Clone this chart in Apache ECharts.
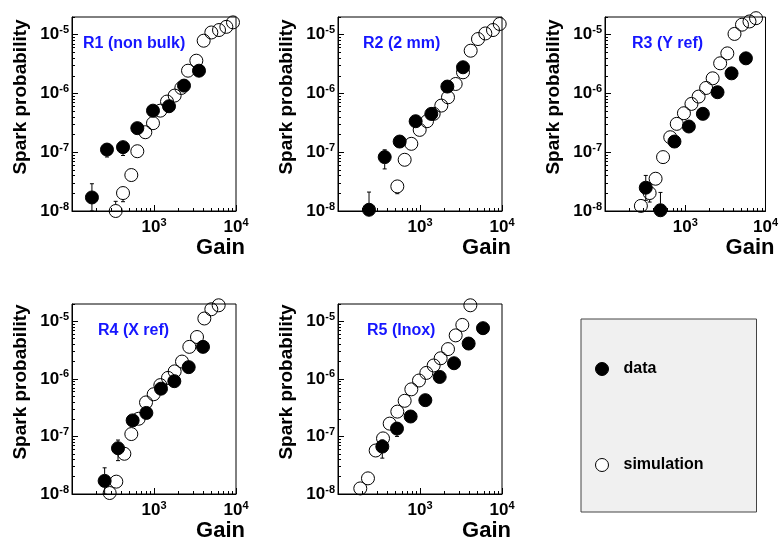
<!DOCTYPE html>
<html>
<head>
<meta charset="utf-8">
<script src="https://cdn.jsdelivr.net/npm/echarts@6/dist/echarts.min.js"></script>
<style>
  html, body { margin: 0; padding: 0; background: #fff; }
  #chart { width: 781px; height: 542px; }
</style>
</head>
<body>
<div id="chart"></div>
<script>
// gain / spark probability, [gain, probability]
const r1Data = [[175, 1.7e-8], [267, 1.11e-7], [419, 1.22e-7], [626, 2.57e-7], [972, 5.1e-7], [1524, 6.06e-7], [2322, 1.36e-6], [3538, 2.44e-6]]
const r1Sim = [[341, 1.0e-8], [419, 2.02e-8], [529, 4.09e-8], [626, 1.04e-7], [784, 2.19e-7], [972, 3.12e-7], [1195, 5.1e-7], [1441, 7.28e-7], [1786, 9.2e-7], [2155, 1.24e-6], [2600, 2.44e-6], [3283, 3.61e-6], [4034, 7.9e-6], [5002, 1.09e-5], [6208, 1.2e-5], [7624, 1.36e-5], [9190, 1.62e-5]]
const r2Data = [[239, 1.05e-8], [371, 8.26e-8], [565, 1.52e-7], [885, 3.37e-7], [1374, 4.49e-7], [2155, 1.31e-6], [3345, 2.79e-6]]
const r2Sim = [[529, 2.62e-8], [650, 7.44e-8], [784, 1.39e-7], [991, 2.4e-7], [1217, 3.37e-7], [1468, 4.5e-7], [1820, 6.22e-7], [2195, 8.6e-7], [2723, 1.45e-6], [3345, 2.29e-6], [4150, 5.34e-6], [5096, 8.43e-6], [6262, 1.05e-5], [7769, 1.2e-5], [9370, 1.52e-5]]
const r3Data = [[322, 2.49e-8], [491, 1.03e-8], [734, 1.52e-7], [1109, 2.74e-7], [1658, 4.5e-7], [2525, 1.05e-6], [3776, 2.2e-6], [5702, 3.96e-6]]
const r3Sim = [[280, 1.22e-8], [360, 2.02e-8], [427, 3.54e-8], [529, 8.26e-8], [650, 1.8e-7], [784, 3.04e-7], [963, 4.61e-7], [1195, 6.64e-7], [1468, 8.85e-7], [1820, 1.24e-6], [2195, 1.81e-6], [2723, 3.26e-6], [3345, 4.81e-6], [4111, 1.03e-5], [5096, 1.48e-5], [6318, 1.68e-5], [7624, 1.91e-5]]
const r4Data = [[250, 1.69e-8], [364, 6.24e-8], [549, 1.9e-7], [807, 2.56e-7], [1217, 6.76e-7], [1770, 9.12e-7], [2648, 1.6e-6], [3960, 3.6e-6]]
const r4Sim = [[288, 1.04e-8], [347, 1.64e-8], [435, 5.0e-8], [529, 1.1e-7], [650, 2.03e-7], [799, 3.9e-7], [991, 5.41e-7], [1195, 7.8e-7], [1482, 1.04e-6], [1786, 1.35e-6], [2195, 2.0e-6], [2697, 3.6e-6], [3345, 5.34e-6], [4111, 1.12e-5], [5002, 1.62e-5], [6146, 1.9e-5]]
const r5Data = [[347, 6.67e-8], [524, 1.37e-7], [769, 2.22e-7], [1162, 4.27e-7], [1738, 1.08e-6], [2600, 1.87e-6], [3920, 4.11e-6], [5865, 7.6e-6]]
const r5Sim = [[187, 1.25e-8], [232, 1.87e-8], [288, 5.7e-8], [354, 9.25e-8], [427, 1.67e-7], [529, 2.7e-7], [650, 4.16e-7], [784, 6.58e-7], [972, 9.37e-7], [1195, 1.27e-6], [1468, 1.71e-6], [1786, 2.28e-6], [2195, 3.29e-6], [2723, 5.7e-6], [3283, 8.66e-6], [4111, 1.9e-5]]

// error bars where they show outside the markers, [gain, probability, low, high]
const r1Err = [[175, 1.7e-8, 1.0e-8, 2.91e-8], [267, 1.11e-7, 8.3e-8, 1.35e-7], [419, 1.22e-7, 8.8e-8, 1.45e-7], [341, 1.0e-8, 1.0e-8, 1.46e-8], [419, 2.02e-8, 1.44e-8, 2.3e-8]]
const r2Err = [[239, 1.05e-8, 1.0e-8, 2.1e-8], [371, 8.26e-8, 5.2e-8, 1.1e-7], [529, 2.62e-8, 1.97e-8, 3.0e-8]]
const r3Err = [[322, 2.49e-8, 1.52e-8, 4.03e-8], [491, 1.03e-8, 1.0e-8, 2.07e-8], [360, 2.02e-8, 1.42e-8, 2.4e-8]]
const r4Err = [[250, 1.69e-8, 1.0e-8, 2.85e-8], [364, 6.24e-8, 3.8e-8, 8.66e-8], [347, 1.64e-8, 1.3e-8, 2.1e-8]]
const r5Err = [[347, 6.67e-8, 4.2e-8, 8.7e-8], [524, 1.37e-7, 1.0e-7, 1.7e-7], [187, 1.25e-8, 1.0e-8, 1.6e-8]]

const panelNames = ['R1 (non bulk)', 'R2 (2 mm)', 'R3 (Y ref)', 'R4 (X ref)', 'R5 (Inox)']
const panelData = [r1Data, r2Data, r3Data, r4Data, r5Data]
const panelSim = [r1Sim, r2Sim, r3Sim, r4Sim, r5Sim]
const panelErr = [r1Err, r2Err, r3Err, r4Err, r5Err]

const xMin = 100
const xMax = 10000
const yMin = 1e-8
const yMax = 2e-5
const xMajor = [100, 1000, 10000]
const xLabels = [1000, 10000]
const xMinor = [200, 300, 400, 500, 600, 700, 800, 900, 2000, 3000, 4000, 5000, 6000, 7000, 8000, 9000]
const yMajor = [1e-8, 1e-7, 1e-6, 1e-5]
const yMinor = [
  2e-8, 3e-8, 4e-8, 5e-8, 6e-8, 7e-8, 8e-8, 9e-8,
  2e-7, 3e-7, 4e-7, 5e-7, 6e-7, 7e-7, 8e-7, 9e-7,
  2e-6, 3e-6, 4e-6, 5e-6, 6e-6, 7e-6, 8e-6, 9e-6,
  2e-5,
]

const FONT = '"Liberation Sans", Arial, Helvetica, sans-serif'
const MARK = 13

// plot frames (left, top, width, height)
const frames = [
  [72, 17, 164, 194],
  [338, 17, 164, 194],
  [605, 17, 163, 194],
  [72, 304, 164, 194],
  [338, 304, 164, 194],
]
const titlePos = [[83, 36], [363, 36], [632, 36], [98, 323], [367, 323]]

const powLabel = (v) => `{b|10}{s|${Math.round(Math.log10(v))}}`
const powRich = {
  b: { fontSize: 17, fontWeight: 'bold', fontFamily: FONT, color: '#000', lineHeight: 20 },
  s: { fontSize: 11, fontWeight: 'bold', fontFamily: FONT, color: '#000', verticalAlign: 'top', lineHeight: 20 },
}

const renderErr = (params, api) => {
  const c = api.coord([api.value(0), api.value(1)])
  const lo = api.coord([api.value(0), api.value(2)])
  const hi = api.coord([api.value(0), api.value(3)])
  const r = MARK / 2
  const cap = 2
  const style = { stroke: '#000', lineWidth: 1 }
  const children = []
  if (hi[1] < c[1] - r) {
    children.push({ type: 'line', shape: { x1: c[0], y1: c[1] - r, x2: c[0], y2: hi[1] }, style })
    children.push({ type: 'line', shape: { x1: c[0] - cap, y1: hi[1], x2: c[0] + cap, y2: hi[1] }, style })
  }
  if (lo[1] > c[1] + r) {
    children.push({ type: 'line', shape: { x1: c[0], y1: c[1] + r, x2: c[0], y2: lo[1] }, style })
    children.push({ type: 'line', shape: { x1: c[0] - cap, y1: lo[1], x2: c[0] + cap, y2: lo[1] }, style })
  }
  return { type: 'group', children }
}

const grid = []
const xAxis = []
const yAxis = []
const series = []
const title = []

frames.forEach(([left, top, width, height], i) => {
  grid.push({ left, top, width, height, show: true, borderColor: '#000', borderWidth: 1, backgroundColor: 'transparent' })

  // main axes: frame, major ticks, labels, names
  xAxis.push({
    type: 'log', gridIndex: i, min: xMin, max: xMax, logBase: 10,
    axisLine: { lineStyle: { color: '#000', width: 1 } },
    axisTick: { inside: true, length: 6, customValues: xMajor, lineStyle: { color: '#000' } },
    axisLabel: { customValues: xLabels, formatter: powLabel, rich: powRich, margin: 6 },
    splitLine: { show: false },
    name: 'Gain', nameLocation: 'end', nameGap: 9,
    nameTextStyle: { fontSize: 22, fontWeight: 'bold', fontFamily: FONT, color: '#000', align: 'right', verticalAlign: 'top', padding: [26, 0, 0, 0] },
  })
  yAxis.push({
    type: 'log', gridIndex: i, min: yMin, max: yMax, logBase: 10,
    axisLine: { lineStyle: { color: '#000', width: 1 } },
    axisTick: { inside: true, length: 6, customValues: yMajor, lineStyle: { color: '#000' } },
    axisLabel: { customValues: yMajor, formatter: powLabel, rich: powRich, margin: 3 },
    splitLine: { show: false },
    name: 'Spark probability', nameLocation: 'middle', nameRotate: 90, nameGap: 42,
    nameTextStyle: { fontSize: 19, fontWeight: 'bold', fontFamily: FONT, color: '#000', padding: [0, 0, 0, 34] },
  })
  // minor tick axes on the same frame
  xAxis.push({
    type: 'log', gridIndex: i, min: xMin, max: xMax, logBase: 10, position: 'bottom',
    axisLine: { show: false },
    axisTick: { inside: true, length: 3, customValues: xMinor, lineStyle: { color: '#000' } },
    axisLabel: { show: false },
    splitLine: { show: false },
  })
  yAxis.push({
    type: 'log', gridIndex: i, min: yMin, max: yMax, logBase: 10, position: 'left',
    axisLine: { show: false },
    axisTick: { inside: true, length: 3, customValues: yMinor, lineStyle: { color: '#000' } },
    axisLabel: { show: false },
    splitLine: { show: false },
  })

  const xi = i * 2
  const yi = i * 2

  series.push({
    name: 'simulation', type: 'scatter', xAxisIndex: xi, yAxisIndex: yi,
    data: panelSim[i], symbol: 'circle', symbolSize: MARK, clip: false,
    itemStyle: { color: 'transparent', borderColor: '#000', borderWidth: 1, opacity: 1 },
    emphasis: { disabled: true }, z: 2,
  })
  series.push({
    name: 'data', type: 'scatter', xAxisIndex: xi, yAxisIndex: yi,
    data: panelData[i], symbol: 'circle', symbolSize: MARK, clip: false,
    itemStyle: { color: '#000', borderColor: '#000', borderWidth: 1, opacity: 1 },
    emphasis: { disabled: true }, z: 3,
  })
  series.push({
    type: 'custom', xAxisIndex: xi, yAxisIndex: yi, data: panelErr[i],
    renderItem: renderErr, encode: { x: 0, y: 1 }, clip: false, silent: true, z: 4,
  })

  title.push({
    text: panelNames[i], left: titlePos[i][0], top: titlePos[i][1], padding: 0,
    textStyle: { fontSize: 16, fontWeight: 'bold', fontFamily: FONT, color: '#1616ff' },
  })
})

const chart = echarts.init(document.getElementById('chart'), null, { renderer: 'canvas' })
chart.setOption({
  animation: false,
  backgroundColor: '#fff',
  title,
  grid,
  xAxis,
  yAxis,
  legend: {
    orient: 'vertical', left: 581, top: 319,
    padding: [42, 53, 39, 14],
    itemWidth: 13, itemHeight: 13, itemGap: 80,
    backgroundColor: '#f0f0f0', borderColor: '#444', borderWidth: 1,
    icon: 'circle',
    selectedMode: false,
    textStyle: { fontSize: 16, fontWeight: 'bold', fontFamily: FONT, color: '#000', padding: [0, 0, 0, 10] },
    data: [
      { name: 'data', itemStyle: { color: '#000', borderColor: '#000', borderWidth: 1 } },
      { name: 'simulation', itemStyle: { color: '#fff', borderColor: '#000', borderWidth: 1 } },
    ],
  },
  series,
})
</script>
</body>
</html>
